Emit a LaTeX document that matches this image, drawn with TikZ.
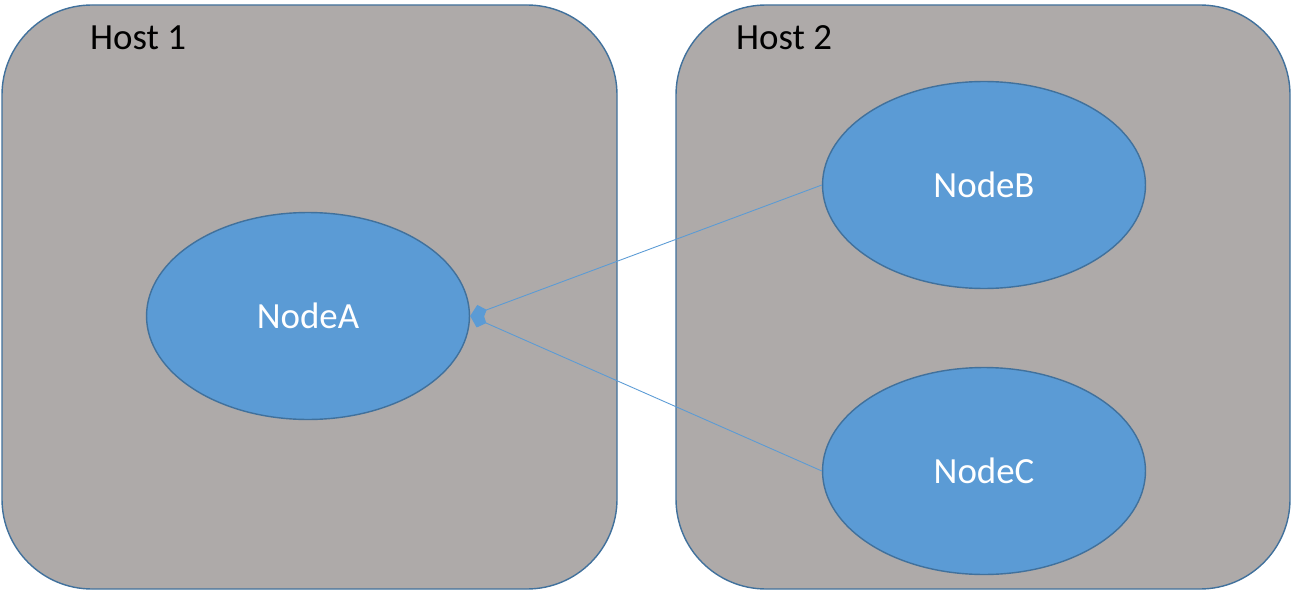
\documentclass[tikz,border=0pt]{standalone}
\usepackage{fontspec}
\setmainfont{Carlito}
\usetikzlibrary{shapes.geometric,arrows.meta,positioning}
\definecolor{hostgray}{RGB}{174,170,169}
\definecolor{edgeblue}{RGB}{65,113,156}
\definecolor{nodeblue}{RGB}{91,155,213}
\tikzset{
  hostbox/.style={draw=edgeblue, line width=0.8pt, fill=hostgray, rounded corners=1.8cm},
  hostlabel/.style={font=\fontsize{21}{24}\selectfont, text=black, anchor=west},
  procnode/.style={ellipse, draw=edgeblue, line width=0.8pt, fill=nodeblue, text=white,
    minimum width=6.46cm, minimum height=4.14cm, font=\fontsize{21}{24}\selectfont},
  link/.style={draw=nodeblue, line width=0.5pt, -{Kite[length=10pt,width=9pt,inset=4pt]}}
}
\begin{document}
\begin{tikzpicture}[x=0.02cm, y=-0.02cm]
  \useasboundingbox (0,0) rectangle (1293,591);
  % hosts
  \draw[hostbox] (2,5) rectangle (617,589);
  \draw[hostbox] (676,5) rectangle (1290,589);
  \node[hostlabel] (host1) at (84,38) {Host 1};
  \node[hostlabel] (host2) at (730,38) {Host 2};
  % processes
  \node[procnode] (nodeA) at (308,316) {NodeA};
  \node[procnode] (nodeB) at (984,185) {NodeB};
  \node[procnode] (nodeC) at (984,471) {NodeC};
  % links
  \draw[link] (nodeB.west) -- (nodeA.east);
  \draw[link] (nodeC.west) -- (nodeA.east);
\end{tikzpicture}
\end{document}
